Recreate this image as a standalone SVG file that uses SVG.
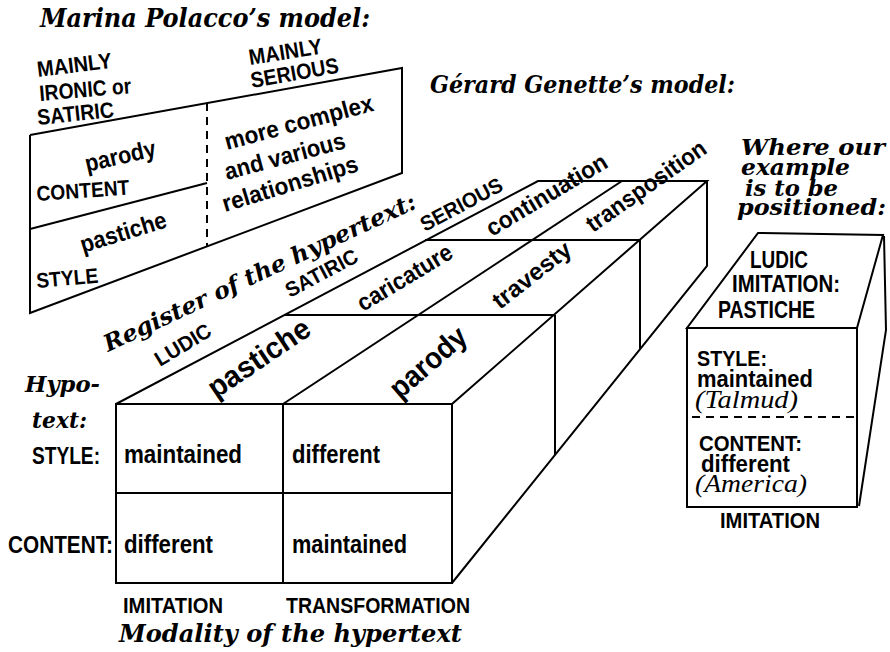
<svg xmlns="http://www.w3.org/2000/svg" width="890" height="652" viewBox="0 0 890 652">
<style>
  .ln{fill:none;stroke:#000;stroke-width:2;stroke-linejoin:miter}
  .dash{fill:none;stroke:#000;stroke-width:2;stroke-dasharray:8 6}
  .s{font-family:"Liberation Sans",Arial,sans-serif;font-weight:bold;fill:#000}
  .t{font-family:"DejaVu Serif","Liberation Serif",serif;font-weight:bold;font-style:italic;fill:#000}
  .i{font-family:"Liberation Serif","Times New Roman",serif;font-style:italic;fill:#000}
</style>
<rect width="890" height="652" fill="#fff"/>

<!-- Polacco model -->
<g id="polacco">
  <text class="t" x="40" y="27" font-size="26" textLength="330" lengthAdjust="spacingAndGlyphs">Marina Polacco’s model:</text>
  <polyline class="ln" points="30,135 402,68 402,173 30,313 30,135"/>
  <line class="ln" x1="30" y1="229" x2="207" y2="183"/>
  <line class="dash" x1="207" y1="103" x2="207" y2="247"/>
  <text class="s" font-size="22" transform="translate(38,77) rotate(-7)" textLength="75" lengthAdjust="spacingAndGlyphs">MAINLY</text>
  <text class="s" font-size="22" transform="translate(40,101) rotate(-5)" textLength="92" lengthAdjust="spacingAndGlyphs">IRONIC or</text>
  <text class="s" font-size="22" transform="translate(38,125) rotate(-6)" textLength="77" lengthAdjust="spacingAndGlyphs">SATIRIC</text>
  <text class="s" font-size="22" transform="translate(250,65) rotate(-9)" textLength="74" lengthAdjust="spacingAndGlyphs">MAINLY</text>
  <text class="s" font-size="22" transform="translate(252,88) rotate(-10)" textLength="89" lengthAdjust="spacingAndGlyphs">SERIOUS</text>
  <text class="s" font-size="24" transform="translate(87,172) rotate(-13)" textLength="72" lengthAdjust="spacingAndGlyphs">parody</text>
  <text class="s" font-size="21" transform="translate(37,201) rotate(-4)" textLength="93" lengthAdjust="spacingAndGlyphs">CONTENT</text>
  <text class="s" font-size="24" transform="translate(227,150) rotate(-15)" textLength="153" lengthAdjust="spacingAndGlyphs">more complex</text>
  <text class="s" font-size="24" transform="translate(227,180) rotate(-15)" textLength="124" lengthAdjust="spacingAndGlyphs">and various</text>
  <text class="s" font-size="24" transform="translate(225,212) rotate(-17)" textLength="141" lengthAdjust="spacingAndGlyphs">relationships</text>
  <text class="s" font-size="24" transform="translate(83,253) rotate(-17)" textLength="89" lengthAdjust="spacingAndGlyphs">pastiche</text>
  <text class="s" font-size="21" transform="translate(37,288) rotate(-5)" textLength="62" lengthAdjust="spacingAndGlyphs">STYLE</text>
</g>

<!-- Genette model -->
<g id="genette">
  <text class="t" x="430" y="93" font-size="25" textLength="305" lengthAdjust="spacingAndGlyphs">Gérard Genette’s model:</text>
  <g id="block">
    <rect class="ln" x="116" y="404" width="336" height="179"/>
    <line class="ln" x1="283" y1="404" x2="283" y2="583"/>
    <line class="ln" x1="116" y1="493" x2="452" y2="493"/>
    <polygon class="ln" points="116,404 538,181 707,181 452,404"/>
    <line class="ln" x1="283" y1="404" x2="622" y2="181"/>
    <line class="ln" x1="284" y1="315" x2="554" y2="315"/>
    <line class="ln" x1="425" y1="240" x2="639" y2="240"/>
    <polyline class="ln" points="452,583 707,266 707,181"/>
    <line class="ln" x1="555" y1="315" x2="555" y2="455"/>
    <line class="ln" x1="640" y1="240" x2="640" y2="349"/>
  </g>
  <g id="block-labels">
    <text class="s" font-size="30" transform="translate(216,399) rotate(-34)" textLength="117" lengthAdjust="spacingAndGlyphs">pastiche</text>
    <text class="s" font-size="30" transform="translate(400,400) rotate(-41)" textLength="92" lengthAdjust="spacingAndGlyphs">parody</text>
    <text class="s" font-size="24" transform="translate(363,312) rotate(-31)" textLength="107" lengthAdjust="spacingAndGlyphs">caricature</text>
    <text class="s" font-size="24" transform="translate(500,310) rotate(-38)" textLength="93" lengthAdjust="spacingAndGlyphs">travesty</text>
    <text class="s" font-size="24" transform="translate(492,237) rotate(-31)" textLength="137" lengthAdjust="spacingAndGlyphs">continuation</text>
    <text class="s" font-size="24" transform="translate(593,233) rotate(-35)" textLength="141" lengthAdjust="spacingAndGlyphs">transposition</text>
    <text class="s" font-size="21" transform="translate(160,367) rotate(-31)" textLength="62" lengthAdjust="spacingAndGlyphs">LUDIC</text>
    <text class="s" font-size="21" transform="translate(290,298) rotate(-28)" textLength="79" lengthAdjust="spacingAndGlyphs">SATIRIC</text>
    <text class="s" font-size="21" transform="translate(425,232) rotate(-28)" textLength="90" lengthAdjust="spacingAndGlyphs">SERIOUS</text>
    <text class="t" font-size="23" transform="translate(108,352) rotate(-25)" textLength="342" lengthAdjust="spacingAndGlyphs">Register of the hypertext:</text>
    <text class="t" x="25" y="392" font-size="23" textLength="75" lengthAdjust="spacingAndGlyphs">Hypo-</text>
    <text class="t" x="32" y="428" font-size="23" textLength="55" lengthAdjust="spacingAndGlyphs">text:</text>
    <text class="s" x="32" y="464" font-size="24" textLength="68" lengthAdjust="spacingAndGlyphs">STYLE:</text>
    <text class="s" x="8" y="553" font-size="24" textLength="105" lengthAdjust="spacingAndGlyphs">CONTENT:</text>
    <text class="s" x="124" y="463" font-size="25" textLength="118" lengthAdjust="spacingAndGlyphs">maintained</text>
    <text class="s" x="292" y="463" font-size="25" textLength="88" lengthAdjust="spacingAndGlyphs">different</text>
    <text class="s" x="124" y="553" font-size="25" textLength="89" lengthAdjust="spacingAndGlyphs">different</text>
    <text class="s" x="292" y="553" font-size="25" textLength="115" lengthAdjust="spacingAndGlyphs">maintained</text>
    <text class="s" x="123" y="613" font-size="22" textLength="100" lengthAdjust="spacingAndGlyphs">IMITATION</text>
    <text class="s" x="286" y="613" font-size="22" textLength="184" lengthAdjust="spacingAndGlyphs">TRANSFORMATION</text>
    <text class="t" x="119" y="642" font-size="25" textLength="343" lengthAdjust="spacingAndGlyphs">Modality of the hypertext</text>
  </g>
</g>

<!-- Example -->
<g id="example">
  <text class="t" x="741" y="155" font-size="22" textLength="144" lengthAdjust="spacingAndGlyphs">Where  our</text>
  <text class="t" x="741" y="175" font-size="22" textLength="109" lengthAdjust="spacingAndGlyphs">example</text>
  <text class="t" x="745" y="196" font-size="22" textLength="93" lengthAdjust="spacingAndGlyphs">is to be</text>
  <text class="t" x="737" y="215" font-size="22" textLength="149" lengthAdjust="spacingAndGlyphs">positioned:</text>
  <polygon class="ln" points="758,233 883,235 857,328 687,328"/>
  <rect class="ln" x="687" y="328" width="170" height="179"/>
  <polyline class="ln" points="884,236 886,330 859,506"/>
  <line class="dash" x1="692" y1="417" x2="857" y2="417"/>
  <text class="s" x="750" y="268" font-size="23" textLength="58" lengthAdjust="spacingAndGlyphs">LUDIC</text>
  <text class="s" x="732" y="292" font-size="23" textLength="108" lengthAdjust="spacingAndGlyphs">IMITATION:</text>
  <text class="s" x="718" y="318" font-size="23" textLength="97" lengthAdjust="spacingAndGlyphs">PASTICHE</text>
  <text class="s" x="697" y="366" font-size="22" textLength="70" lengthAdjust="spacingAndGlyphs">STYLE:</text>
  <text class="s" x="697" y="387" font-size="23" textLength="116" lengthAdjust="spacingAndGlyphs">maintained</text>
  <text class="i" x="695" y="408" font-size="25" textLength="103" lengthAdjust="spacingAndGlyphs">(Talmud)</text>
  <text class="s" x="699" y="451" font-size="22" textLength="103" lengthAdjust="spacingAndGlyphs">CONTENT:</text>
  <text class="s" x="701" y="472" font-size="23" textLength="89" lengthAdjust="spacingAndGlyphs">different</text>
  <text class="i" x="695" y="492" font-size="25" textLength="112" lengthAdjust="spacingAndGlyphs">(America)</text>
  <text class="s" x="720" y="528" font-size="22" textLength="100" lengthAdjust="spacingAndGlyphs">IMITATION</text>
</g>
</svg>
